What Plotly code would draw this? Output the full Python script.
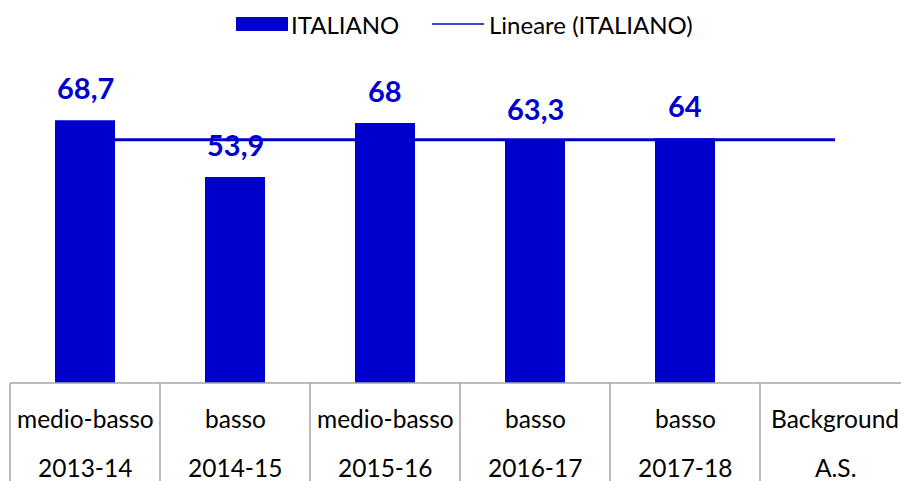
import numpy as np
import plotly.graph_objects as go

# ---- data ----
levels = ["medio-basso", "basso", "medio-basso", "basso", "basso", "Background"]
years = ["2013-14", "2014-15", "2015-16", "2016-17", "2017-18", "A.S."]
values = [68.7, 53.9, 68.0, 63.3, 64.0, None]
series_name = "ITALIANO"
trend_name = "Lineare (ITALIANO)"

categories = [f"{a} {b}" for a, b in zip(levels, years)]

BLUE = "#0000CC"
GRID = "#a6a6a6"
FONT = "Lato"

W, H = 901, 481
ML, MR, MT, MB = 10, 0, 60, 98
PW = W - ML - MR
PH = H - MT - MB
CAT_PX = 150.0
XMIN = -0.5
XMAX = XMIN + PW / CAT_PX
YMAX = PH / 3.824

def px2x(px):
    return (px - ML) / PW

def py2y(py):
    return (H - MB - py) / PH

# linear trendline (Excel-like) fitted on available points
idx = np.array([i for i, v in enumerate(values) if v is not None], dtype=float)
vals = np.array([v for v in values if v is not None], dtype=float)
slope, intercept = np.polyfit(idx, vals, 1)
trend = [slope * i + intercept for i in range(len(categories))]

fig = go.Figure()
fig.add_trace(go.Bar(
    x=categories, y=values, name=series_name, width=0.4,
    marker=dict(color=BLUE, line=dict(width=0)), showlegend=False,
))
fig.add_trace(go.Scatter(
    x=categories, y=trend, name=trend_name, mode="lines",
    line=dict(color=BLUE, width=3), showlegend=False,
))

annotations = []
for c, v in zip(categories, values):
    if v is None:
        continue
    annotations.append(dict(
        x=c, y=v, xref="x", yref="y", text=f"{v:g}".replace(".", ","),
        showarrow=False, yanchor="bottom", yshift=13,
        font=dict(family=FONT, size=29, color=BLUE, weight="bold"),
    ))
for c, a, b in zip(categories, levels, years):
    annotations.append(dict(
        x=c, y=0, xref="x", yref="paper", text=a, showarrow=False,
        yanchor="middle", yshift=-35, font=dict(family=FONT, size=24.5, color="black"),
    ))
    annotations.append(dict(
        x=c, y=0, xref="x", yref="paper", text=b, showarrow=False,
        yanchor="middle", yshift=-84, font=dict(family=FONT, size=24.5, color="black"),
    ))

# custom legend
annotations.append(dict(
    x=px2x(289), y=py2y(24), xref="paper", yref="paper", text=series_name,
    showarrow=False, xanchor="left", yanchor="middle",
    font=dict(family=FONT, size=24, color="black"),
))
annotations.append(dict(
    x=px2x(487), y=py2y(24), xref="paper", yref="paper", text=trend_name,
    showarrow=False, xanchor="left", yanchor="middle",
    font=dict(family=FONT, size=24, color="black"),
))

shapes = [
    dict(type="rect", xref="paper", yref="paper", x0=px2x(236), x1=px2x(288),
         y0=py2y(31), y1=py2y(17), fillcolor=BLUE, line=dict(width=0)),
    dict(type="line", xref="paper", yref="paper", x0=px2x(432), x1=px2x(484),
         y0=py2y(24), y1=py2y(24), line=dict(color=BLUE, width=1.5)),
    dict(type="line", xref="paper", yref="paper", x0=0, x1=1.01,
         y0=0, y1=0, line=dict(color=GRID, width=1.5)),
]
for i in range(len(categories)):
    xp = (i - 0.5 - XMIN) / (XMAX - XMIN)
    shapes.append(dict(type="line", xref="paper", yref="paper", x0=xp, x1=xp,
                       y0=0, y1=-MB / PH - 0.05, line=dict(color=GRID, width=1.5)))

fig.update_layout(
    width=W, height=H,
    margin=dict(l=ML, r=MR, t=MT, b=MB, pad=0),
    paper_bgcolor="white", plot_bgcolor="white",
    xaxis=dict(type="category", range=[XMIN, XMAX], showticklabels=False,
               showline=False, ticks="",
               showgrid=False, zeroline=False, fixedrange=True),
    yaxis=dict(range=[0, YMAX], visible=False, fixedrange=True),
    annotations=annotations, shapes=shapes,
    bargap=0.6, showlegend=False,
)

fig.write_html(
    "out.html",
    config={"displayModeBar": False},
    post_script="document.body.style.margin='0';document.body.style.overflow='hidden';",
)
